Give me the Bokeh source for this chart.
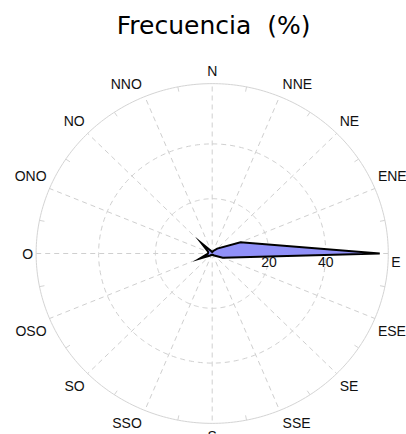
import numpy as np
from bokeh.plotting import figure
from bokeh.models import Range1d
from bokeh.core.properties import value
from bokeh.embed import file_html
from bokeh.resources import INLINE

# ---- data ----
directions = ["N", "NNE", "NE", "ENE", "E", "ESE", "SE", "SSE",
              "S", "SSO", "SO", "OSO", "O", "ONO", "NO", "NNO"]
frequency = [0.5, 1.0, 2.5, 10.8, 59.0, 4.0, 1.0, 0.5,
             0.5, 0.5, 1.0, 4.8, 1.5, 1.5, 5.4, 1.0]
ring_values = [20, 40]
ring_labels = ["20", "40"]
title_text = "Frecuencia\u00a0\u00a0(%)"

# ---- geometry ----
R_OUT = 62.0
SX, SY = 2.84, 2.74          # px per data unit
W, H = 406, 434
CX_PX, CY_PX = 211.7, 253.0  # centre in figure pixels
PAD_X, PAD_Y = 3.0, 4.5

p = figure(width=W, height=H, output_backend="svg", toolbar_location=None,
           x_range=Range1d(-CX_PX / SX, (W - CX_PX) / SX),
           y_range=Range1d(-(H - CY_PX) / SY, CY_PX / SY),
           min_border=0)
p.axis.visible = False
p.grid.visible = False
p.outline_line_color = None
p.background_fill_color = "white"

n = len(directions)
ang = np.arange(n) * 2 * np.pi / n  # clockwise from north
t = np.linspace(0, 2 * np.pi, 361)

# outer circle
p.line(R_OUT * np.sin(t), R_OUT * np.cos(t), line_color="#d4d4d4", line_width=1)
# dashed rings
for rv in ring_values:
    p.line(rv * np.sin(t), rv * np.cos(t), line_color="#cfcfcf", line_width=1,
           line_dash="5 4")
# spokes
p.multi_line([[0, R_OUT * np.sin(a)] for a in ang],
             [[0, R_OUT * np.cos(a)] for a in ang],
             line_color="#cfcfcf", line_width=1, line_dash="5 4")
# minor ticks at half angles
half = ang + np.pi / n
tick_len = 5.0 / SX
p.multi_line([[R_OUT * np.sin(a), (R_OUT - tick_len) * np.sin(a)] for a in half],
             [[R_OUT * np.cos(a), (R_OUT - tick_len) * np.cos(a)] for a in half],
             line_color="#d4d4d4", line_width=1)

# data polygon
vals = np.array(frequency)
px = vals * np.sin(ang)
py = vals * np.cos(ang)
p.patch(list(px), list(py), fill_color="#9090f8", fill_alpha=1.0,
        line_color="black", line_width=2, line_join="miter")

# direction labels
for d, a in zip(directions, ang):
    s, c = np.sin(a), np.cos(a)
    x = R_OUT * s + (PAD_X / SX) * np.sign(round(s, 3))
    y = R_OUT * c + (PAD_Y / SY) * np.sign(round(c, 3))
    a_ = "left" if s > 0.1 else ("right" if s < -0.1 else "center")
    if d == "E":
        b_ = "top"
    else:
        b_ = "bottom" if c > 0.1 else ("top" if c < -0.1 else "middle")
    p.text(x=[x], y=[y], text=[d], text_align=a_, text_baseline=b_,
           text_font=value("Liberation Sans"), text_font_size="14px",
           text_color="#111111")

# ring labels
p.text(x=ring_values, y=[-3 / SY] * len(ring_values), text=ring_labels,
       text_align="center", text_baseline="top",
       text_font=value("Liberation Sans"), text_font_size="14px",
       text_color="#111111")

# title
p.text(x=[0.5], y=[(CY_PX - 25) / SY], text=[title_text], text_align="center",
       text_baseline="middle", text_font=value("DejaVu Sans"),
       text_font_size="25px", text_color="black")

open("out.html", "w").write(file_html(p, INLINE))
